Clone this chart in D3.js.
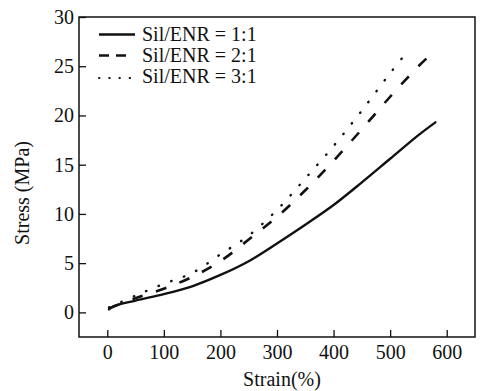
<!DOCTYPE html>
<html>
<head>
<meta charset="utf-8">
<script src="https://cdn.jsdelivr.net/npm/d3@7"></script>
<style>
  body { margin: 0; background: #fff; }
</style>
</head>
<body>
<div id="chart"></div>
<script>
// data: [strain %, stress MPa]
const seriesNames = ["Sil/ENR = 1:1", "Sil/ENR = 2:1", "Sil/ENR = 3:1"];
const sil11 = [[3, 0.3], [10, 0.6], [50, 1.2], [100, 1.85], [150, 2.65], [200, 3.8], [250, 5.2],
    [300, 7.0], [350, 8.9], [400, 10.9], [450, 13.2], [500, 15.6], [550, 18.0], [580, 19.3]];
const sil21 = [[3, 0.4], [50, 1.45], [100, 2.4], [150, 3.6], [200, 5.2], [250, 7.4], [300, 9.7],
    [350, 12.4], [400, 15.4], [450, 18.6], [500, 21.9], [550, 25.0], [572, 26.2]];
const sil31 = [[3, 0.5], [50, 1.7], [100, 2.9], [150, 4.0], [200, 5.9], [250, 7.8], [300, 10.4],
    [350, 13.6], [400, 16.9], [450, 20.5], [500, 24.3], [525, 26.1]];
const xTicks = [0, 100, 200, 300, 400, 500, 600];
const yTicks = [0, 5, 10, 15, 20, 25, 30];

const serif = '"Liberation Serif"';

// MARGIN CONVENTIONS
const margin = { top: 17, right: 6, bottom: 54, left: 79 };
const outerWidth = 481;
const outerHeight = 391;
const width = outerWidth - margin.left - margin.right;
const height = outerHeight - margin.top - margin.bottom;

const svg = d3.select("#chart").append("svg")
    .attr("width", outerWidth)
    .attr("height", outerHeight);

const g = svg.append("g")
    .attr("transform", `translate(${margin.left}, ${margin.top})`);

// scales
const x = d3.scaleLinear().domain([-50, 650]).range([0, width]);
const y = d3.scaleLinear().domain([-2.5, 30]).range([height, 0]);

// axes, ticks point inward
const xAxis = g.append("g")
    .attr("transform", `translate(0, ${height})`)
    .call(d3.axisBottom(x).tickValues(xTicks).tickSizeInner(-7).tickSizeOuter(0).tickPadding(8));
xAxis.select(".domain").remove();
xAxis.selectAll("line").attr("stroke", "#111").attr("stroke-width", 1.3);
xAxis.selectAll("text")
    .attr("fill", "#111")
    .style("font-family", serif)
    .style("font-size", "20px");

const yAxis = g.append("g")
    .call(d3.axisLeft(y).tickValues(yTicks).tickSizeInner(-7).tickSizeOuter(0).tickPadding(5));
yAxis.select(".domain").remove();
yAxis.selectAll("line").attr("stroke", "#111").attr("stroke-width", 1.3);
yAxis.selectAll("text")
    .attr("fill", "#111")
    .style("font-family", serif)
    .style("font-size", "20px");

// frame
g.append("rect")
    .attr("width", width)
    .attr("height", height)
    .attr("fill", "none")
    .attr("stroke", "#111")
    .attr("stroke-width", 1.5);

// curves
const line = d3.line()
    .x(d => x(d[0]))
    .y(d => y(d[1]))
    .curve(d3.curveCatmullRom);

const curves = [
    { data: sil11, dash: null, width: 2.4, cap: "round" },
    { data: sil21, dash: "11,14", width: 2.6, cap: "butt" },
    { data: sil31, dash: "0.5,13", width: 2.4, cap: "round" }
];

g.selectAll("path.curve")
    .data(curves)
    .enter()
    .append("path")
    .attr("class", "curve")
    .attr("d", d => line(d.data))
    .attr("fill", "none")
    .attr("stroke", "#111")
    .attr("stroke-width", d => d.width)
    .attr("stroke-linecap", d => d.cap)
    .attr("stroke-dasharray", d => d.dash);

// legend
const legendDash = [null, "10,7", "0.5,9.7"];
const legend = g.selectAll("g.legend")
    .data(seriesNames)
    .enter()
    .append("g")
    .attr("class", "legend")
    .attr("transform", (d, i) => `translate(20, ${17 + i * 21})`);

legend.append("line")
    .attr("x1", 0)
    .attr("x2", (d, i) => [36, 28, 40][i])
    .attr("y1", (d, i) => [0.5, 0.5, 2][i])
    .attr("y2", (d, i) => [0.5, 0.5, 2][i])
    .attr("stroke", "#111")
    .attr("stroke-width", (d, i) => [2.4, 2.6, 2][i])
    .attr("stroke-linecap", (d, i) => i === 2 ? "round" : "butt")
    .attr("stroke-dasharray", (d, i) => legendDash[i]);

legend.append("text")
    .attr("x", 43)
    .attr("y", 7)
    .attr("fill", "#111")
    .style("font-family", serif)
    .style("font-size", "20px")
    .text(d => d);

// labels
svg.append("text")
    .attr("text-anchor", "middle")
    .attr("x", 282)
    .attr("y", 386)
    .attr("fill", "#111")
    .style("font-family", serif)
    .style("font-size", "20px")
    .text("Strain(%)");

svg.append("text")
    .attr("text-anchor", "middle")
    .attr("transform", "translate(29, 193) rotate(-90)")
    .attr("fill", "#111")
    .style("font-family", serif)
    .style("font-size", "20px")
    .text("Stress (MPa)");
</script>
</body>
</html>
